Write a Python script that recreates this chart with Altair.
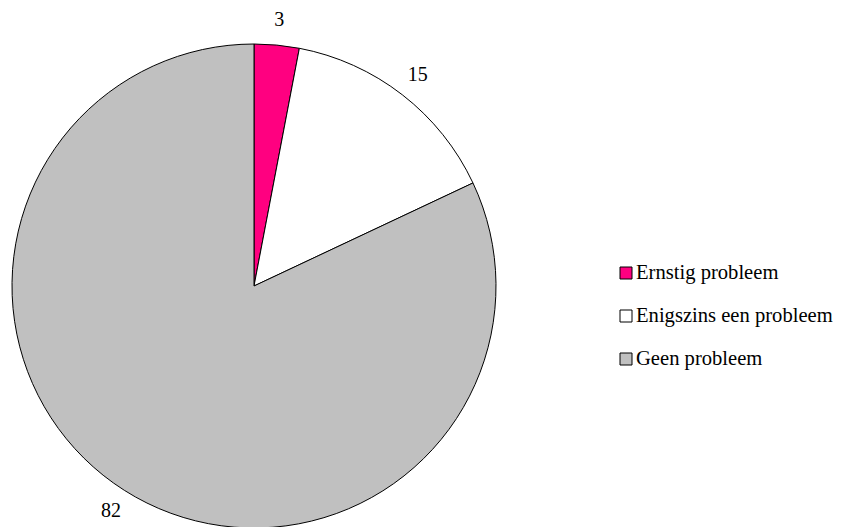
import altair as alt
import pandas as pd

categories = ["Ernstig probleem", "Enigszins een probleem", "Geen probleem"]
values = [3, 15, 82]
colors = ["#FF0080", "#FFFFFF", "#C0C0C0"]
order = [0, 1, 2]

df = pd.DataFrame({"cat": categories, "val": values, "ord": order})

cx, cy = 246, 278
FONT = "Liberation Serif, Times New Roman, serif"

color = alt.Color(
    "cat:N",
    scale=alt.Scale(domain=categories, range=colors),
    legend=None,
)

base = alt.Chart(df).encode(
    theta=alt.Theta("val:Q", stack=True),
    order=alt.Order("ord:Q"),
)

pie = base.mark_arc(stroke="black", strokeWidth=1, outerRadius=242).encode(
    color=color,
    x=alt.value(cx),
    y=alt.value(cy),
)

labels = base.mark_text(
    font=FONT, fontSize=20, color="black", baseline="middle", align="center"
).encode(
    text=alt.Text("val:Q"),
    radius=alt.value(267),
    x=alt.value(cx),
    y=alt.value(cy),
)

ly = alt.Y(
    "cat:N",
    sort=categories,
    axis=None,
    scale=alt.Scale(type="point", domain=categories, range=[265, 351], padding=0),
)

leg_sym = alt.Chart(df).mark_square(size=144, stroke="black", strokeWidth=1, opacity=1).encode(
    x=alt.value(618),
    y=ly,
    color=color,
)

leg_txt = alt.Chart(df).mark_text(
    font=FONT, fontSize=20.6, color="black", align="left", baseline="middle"
).encode(
    x=alt.value(628),
    y=ly,
    text="cat:N",
)

chart = (
    alt.layer(pie, labels, leg_sym, leg_txt)
    .properties(width=826, height=540, autosize=alt.AutoSizeParams(type="none"), padding=0)
    .configure_view(stroke=None)
)

chart.save("out.html", embed_options={"renderer": "svg", "actions": False})
